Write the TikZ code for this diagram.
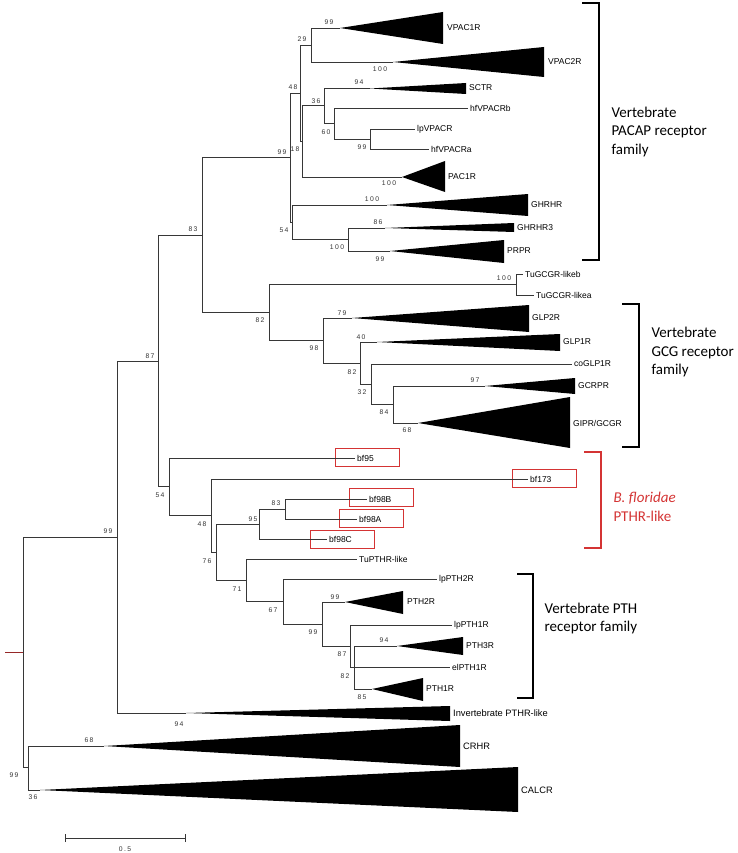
\documentclass[tikz,border=0pt]{standalone}
\usepackage{fontspec}
\setmainfont{Liberation Sans}
\newfontfamily\bootfont[LetterSpace=20]{Liberation Sans}
\newfontfamily\famfont{Carlito}
\definecolor{bfred}{RGB}{212,52,52}
\definecolor{treeline}{RGB}{55,55,55}
\definecolor{rootred}{RGB}{150,40,40}

\begin{document}
\begin{tikzpicture}[x=1pt, y=-1pt,
    branch/.style={draw=treeline, line width=0.7pt},
    clade/.style={fill=black},
    leaf/.style={anchor=west, inner sep=2pt, font=\fontsize{8.5}{10}\selectfont},
    bigleaf/.style={leaf, font=\fontsize{9.3}{11}\selectfont},
    boot/.style={inner sep=0pt, font=\bootfont\fontsize{6.8}{7}\selectfont, text=black!80},
    bfbox/.style={draw=bfred, line width=0.8pt, minimum width=64pt, minimum height=18pt, inner sep=0pt},
    bracket/.style={draw=black, line width=1.4pt},
    famtext/.style={anchor=west, align=left, font=\famfont\fontsize{15}{18.5}\selectfont}
]
\useasboundingbox (0,0) rectangle (738,853);

% internal nodes
\coordinate (root) at (23,652.25);
\coordinate (stub) at (5,652.25);
\coordinate (n99t) at (117,537);
\coordinate (nCC)  at (28,767.5);
\coordinate (n87)  at (158,361);
\coordinate (n83)  at (202,235.1);
\coordinate (n99)  at (290,157.7);
\coordinate (n48)  at (300,93.2);
\coordinate (n29)  at (311,45);
\coordinate (n18)  at (302,141.4);
\coordinate (n36)  at (324,105.75);
\coordinate (n60)  at (334,123.5);
\coordinate (n99b) at (370,139);
\coordinate (n54)  at (292,222.25);
\coordinate (n100) at (348,239.5);
\coordinate (n82)  at (269,312.5);
\coordinate (nTu)  at (516,284.5);
\coordinate (n98)  at (323,340.6);
\coordinate (n82b) at (360,363.1);
\coordinate (n32)  at (371,384.25);
\coordinate (n84)  at (393,404.5);
\coordinate (n54b) at (169,486.8);
\coordinate (n48b) at (211,515.6);
\coordinate (n76)  at (216,552.1);
\coordinate (n95)  at (259,524);
\coordinate (n83b) at (285,509);
\coordinate (n71)  at (246,580.3);
\coordinate (n67)  at (283,601.6);
\coordinate (n99c) at (322,624.1);
\coordinate (n87c) at (350,646.25);
\coordinate (nPC)  at (354,667.5);

% apices of collapsed clades
\coordinate (aVPAC1R) at (340,28);
\coordinate (aVPAC2R) at (393,62);
\coordinate (aSCTR)   at (370,88.5);
\coordinate (aPAC1R)  at (402,177);
\coordinate (aGHRHR)  at (387,205);
\coordinate (aGHRHR3) at (385,228);
\coordinate (aPRPR)   at (390,251);
\coordinate (aGLP2R)  at (352,318);
\coordinate (aGLP1R)  at (377,342);
\coordinate (aGCRPR)  at (485,386);
\coordinate (aGIPR)   at (418,423);
\coordinate (aPTH2R)  at (345,602);
\coordinate (aPTH3R)  at (397,646);
\coordinate (aPTH1R)  at (372,689);
\coordinate (aInv)    at (186,713);
\coordinate (aCRHR)   at (104,746);
\coordinate (aCALCR)  at (40,790);

\fill[clade] (aVPAC1R) -- (443,12) -- (443,44) -- cycle;
\fill[clade] (aVPAC2R) -- (544,47) -- (544,77) -- cycle;
\fill[clade] (aSCTR) -- (466,83) -- (466,94) -- cycle;
\fill[clade] (aPAC1R) -- (445,161) -- (445,192) -- cycle;
\fill[clade] (aGHRHR) -- (528,194) -- (528,216) -- cycle;
\fill[clade] (aGHRHR3) -- (514,223) -- (514,232) -- cycle;
\fill[clade] (aPRPR) -- (504,240) -- (504,263) -- cycle;
\fill[clade] (aGLP2R) -- (529,305) -- (529,332) -- cycle;
\fill[clade] (aGLP1R) -- (560,334) -- (560,351) -- cycle;
\fill[clade] (aGCRPR) -- (575,378) -- (575,394) -- cycle;
\fill[clade] (aGIPR) -- (570,397) -- (570,448) -- cycle;
\fill[clade] (aPTH2R) -- (403,591) -- (403,614) -- cycle;
\fill[clade] (aPTH3R) -- (463,637) -- (463,655) -- cycle;
\fill[clade] (aPTH1R) -- (423,678) -- (423,701) -- cycle;
\fill[clade] (aInv) -- (450,706) -- (450,721) -- cycle;
\fill[clade] (aCRHR) -- (460,725) -- (460,767) -- cycle;
\fill[clade] (aCALCR) -- (518,767) -- (518,812) -- cycle;

% leaf labels
\node[leaf] (VPAC1R)   at (445,28)  {VPAC1R};
\node[leaf] (VPAC2R)   at (546,62)  {VPAC2R};
\node[leaf] (SCTR)     at (467,88)  {SCTR};
\node[leaf] (hfVPACRb) at (468,108) {hfVPACRb};
\node[leaf] (lpVPACR)  at (415,129) {lpVPACR};
\node[leaf] (hfVPACRa) at (429,149) {hfVPACRa};
\node[leaf] (PAC1R)    at (446,177) {PAC1R};
\node[leaf] (GHRHR)    at (529,205) {GHRHR};
\node[leaf] (GHRHR3)   at (515,228) {GHRHR3};
\node[leaf] (PRPR)     at (505,251) {PRPR};
\node[leaf] (TuGCGRb)  at (523,274) {TuGCGR-likeb};
\node[leaf] (TuGCGRa)  at (534,295) {TuGCGR-likea};
\node[leaf] (GLP2R)    at (530,318) {GLP2R};
\node[leaf] (GLP1R)    at (561,342) {GLP1R};
\node[leaf] (coGLP1R)  at (572,364) {coGLP1R};
\node[leaf] (GCRPR)    at (576,386) {GCRPR};
\node[leaf] (GIPR)     at (571,423) {GIPR/GCGR};
\node[leaf] (bf95)     at (355,458) {bf95};
\node[leaf] (bf173)    at (528,479) {bf173};
\node[leaf] (bf98B)    at (367,499) {bf98B};
\node[leaf] (bf98A)    at (357,519) {bf98A};
\node[leaf] (bf98C)    at (327,539) {bf98C};
\node[leaf] (TuPTHR)   at (357,559) {TuPTHR-like};
\node[leaf] (lpPTH2R)  at (437,579) {lpPTH2R};
\node[leaf] (PTH2R)    at (405,602) {PTH2R};
\node[leaf] (lpPTH1R)  at (452,625) {lpPTH1R};
\node[leaf] (PTH3R)    at (464,646) {PTH3R};
\node[leaf] (elPTH1R)  at (450,667) {elPTH1R};
\node[leaf] (PTH1R)    at (424,689) {PTH1R};
\node[bigleaf] (Inv)   at (451,713) {Invertebrate PTHR-like};
\node[bigleaf] (CRHR)  at (461,746) {CRHR};
\node[bigleaf] (CALCR) at (519,790) {CALCR};

% red boxes round the B. floridae genes
\node[bfbox] (bx95)  at (367.5,457) {};
\node[bfbox] (bx173) at (544,478) {};
\node[bfbox] (bx98B) at (381,497) {};
\node[bfbox] (bx98A) at (371,518) {};
\node[bfbox] (bx98C) at (342,539) {};

% branches
\draw[draw=rootred, line width=0.7pt] (stub) -- (root);
\draw[branch] (root) |- (n99t);
\draw[branch] (root) |- (nCC);
\draw[branch] (nCC) |- (aCRHR);
\draw[branch] (nCC) |- (aCALCR);
\draw[branch] (n99t) |- (n87);
\draw[branch] (n99t) |- (aInv);
\draw[branch] (n87) |- (n83);
\draw[branch] (n87) |- (n54b);
\draw[branch] (n83) |- (n99);
\draw[branch] (n83) |- (n82);
\draw[branch] (n99) |- (n48);
\draw[branch] (n99) |- (n54);
\draw[branch] (n48) |- (n29);
\draw[branch] (n48) |- (n18);
\draw[branch] (n29) |- (aVPAC1R);
\draw[branch] (n29) |- (aVPAC2R);
\draw[branch] (n18) |- (n36);
\draw[branch] (n18) |- (aPAC1R);
\draw[branch] (n36) |- (aSCTR);
\draw[branch] (n36) |- (n60);
\draw[branch] (n60) |- (hfVPACRb.west);
\draw[branch] (n60) |- (n99b);
\draw[branch] (n99b) |- (lpVPACR.west);
\draw[branch] (n99b) |- (hfVPACRa.west);
\draw[branch] (n54) |- (aGHRHR);
\draw[branch] (n54) |- (n100);
\draw[branch] (n100) |- (aGHRHR3);
\draw[branch] (n100) |- (aPRPR);
\draw[branch] (n82) |- (nTu);
\draw[branch] (n82) |- (n98);
\draw[branch] (nTu) |- (TuGCGRb.west);
\draw[branch] (nTu) |- (TuGCGRa.west);
\draw[branch] (n98) |- (aGLP2R);
\draw[branch] (n98) |- (n82b);
\draw[branch] (n82b) |- (aGLP1R);
\draw[branch] (n82b) |- (n32);
\draw[branch] (n32) |- (coGLP1R.west);
\draw[branch] (n32) |- (n84);
\draw[branch] (n84) |- (aGCRPR);
\draw[branch] (n84) |- (aGIPR);
\draw[branch] (n54b) |- (bf95.west);
\draw[branch] (n54b) |- (n48b);
\draw[branch] (n48b) |- (bf173.west);
\draw[branch] (n48b) |- (n76);
\draw[branch] (n76) |- (n95);
\draw[branch] (n76) |- (n71);
\draw[branch] (n95) |- (n83b);
\draw[branch] (n95) |- (bf98C.west);
\draw[branch] (n83b) |- (bf98B.west);
\draw[branch] (n83b) |- (bf98A.west);
\draw[branch] (n71) |- (TuPTHR.west);
\draw[branch] (n71) |- (n67);
\draw[branch] (n67) |- (lpPTH2R.west);
\draw[branch] (n67) |- (n99c);
\draw[branch] (n99c) |- (aPTH2R);
\draw[branch] (n99c) |- (n87c);
\draw[branch] (n87c) |- (lpPTH1R.west);
\draw[branch] (n87c) |- (nPC);
\draw[branch] (nPC) |- (aPTH3R);
\draw[branch] (nPC) |- (elPTH1R.west);
\draw[branch] (nPC) |- (aPTH1R);

% bootstrap values
\node[boot] (bsVPAC1R) at (329,22)  {99};
\node[boot] (bsVPAC2R) at (380,69)  {100};
\node[boot] (bs29)     at (302,39)  {29};
\node[boot] (bs48)     at (293,87)  {48};
\node[boot] (bsSCTR)   at (359,82)  {94};
\node[boot] (bs36)     at (316,101) {36};
\node[boot] (bs60)     at (326,132) {60};
\node[boot] (bs99b)    at (362,147) {99};
\node[boot] (bs99)     at (282,152) {99};
\node[boot] (bs18)     at (295,149) {18};
\node[boot] (bsPAC1R)  at (389,183) {100};
\node[boot] (bsGHRHR)  at (372,199) {100};
\node[boot] (bsGHRHR3) at (378,222) {86};
\node[boot] (bs100)    at (337,247) {100};
\node[boot] (bsPRPR)   at (380,259) {99};
\node[boot] (bs54)     at (284,230) {54};
\node[boot] (bs83)     at (193,229) {83};
\node[boot] (bsTu)     at (504,278) {100};
\node[boot] (bs82)     at (260,320) {82};
\node[boot] (bsGLP2R)  at (342,313) {79};
\node[boot] (bsGLP1R)  at (361,337) {40};
\node[boot] (bs98)     at (314,348) {98};
\node[boot] (bs82b)    at (352,372) {82};
\node[boot] (bs32)     at (362,392) {32};
\node[boot] (bs84)     at (384,412) {84};
\node[boot] (bsGIPR)   at (407,430) {68};
\node[boot] (bsGCRPR)  at (475,380) {97};
\node[boot] (bs87)     at (150,356) {87};
\node[boot] (bs54b)    at (160,495) {54};
\node[boot] (bs48b)    at (202,524) {48};
\node[boot] (bs83b)    at (276,503) {83};
\node[boot] (bs95)     at (253,519) {95};
\node[boot] (bs76)     at (207,561) {76};
\node[boot] (bs71)     at (237,589) {71};
\node[boot] (bs67)     at (273,610) {67};
\node[boot] (bsPTH2R)  at (335,597) {99};
\node[boot] (bs99c)    at (313,632) {99};
\node[boot] (bsPTH3R)  at (384,640) {94};
\node[boot] (bs87c)    at (342,654) {87};
\node[boot] (bsPC)     at (345,676) {82};
\node[boot] (bsPTH1R)  at (362,697) {85};
\node[boot] (bsInv)    at (179,724) {94};
\node[boot] (bs99t)    at (108,531) {99};
\node[boot] (bsCRHR)   at (89,740)  {68};
\node[boot] (bsCC)     at (14,775)  {99};
\node[boot] (bsCALCR)  at (33,797)  {36};

% family brackets
\draw[bracket] (582,3) -- (599,3) -- (599,260) -- (582,260);
\node[famtext] (famPACAP) at (608,132) {Vertebrate\\PACAP receptor\\family};
\draw[bracket] (622,304) -- (639,304) -- (639,447) -- (622,447);
\node[famtext] (famGCG) at (648,352) {Vertebrate\\GCG receptor\\family};
\draw[bracket, draw=bfred] (584,452) -- (601,452) -- (601,548) -- (584,548);
\node[famtext, text=bfred] (famBf) at (610,507) {\textit{B. floridae}\\PTHR-like};
\draw[bracket] (517,574) -- (533,574) -- (533,698) -- (517,698);
\node[famtext] (famPTH) at (541,618.5) {Vertebrate PTH\\receptor family};

% scale bar
\coordinate (sbL) at (65,838);
\coordinate (sbR) at (185,838);
\draw[branch] (sbL) -- (sbR);
\draw[branch] ([yshift=-4pt]sbL) -- ([yshift=4pt]sbL);
\draw[branch] ([yshift=-4pt]sbR) -- ([yshift=4pt]sbR);
\node[boot] (sbText) at (125,849) {0.5};
\end{tikzpicture}
\end{document}
